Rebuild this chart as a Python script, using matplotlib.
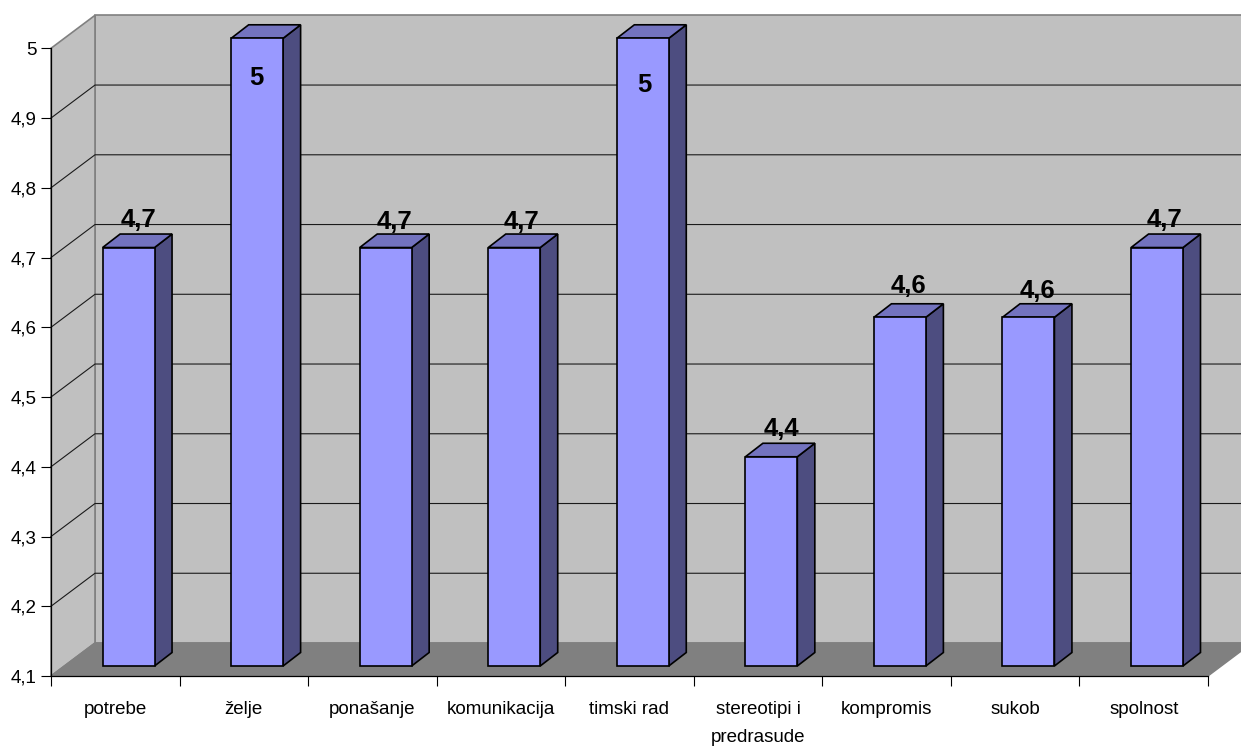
import matplotlib
matplotlib.use('Agg')
import matplotlib.pyplot as plt
from matplotlib.patches import Polygon
from matplotlib.transforms import Affine2D, IdentityTransform
import numpy as np

categories = ['potrebe', 'želje', 'ponašanje', 'komunikacija', 'timski rad',
              'stereotipi i\npredrasude', 'kompromis', 'sukob', 'spolnost']
values = [4.7, 5, 4.7, 4.7, 5, 4.4, 4.6, 4.6, 4.7]
value_labels = ['4,7', '5', '4,7', '4,7', '5', '4,4', '4,6', '4,6', '4,7']
y_ticks = [4.1, 4.2, 4.3, 4.4, 4.5, 4.6, 4.7, 4.8, 4.9, 5]
y_tick_labels = ['4,1', '4,2', '4,3', '4,4', '4,5', '4,6', '4,7', '4,8', '4,9', '5']

# label offsets from the top of each bar, in pixels (moved by hand in the original)
label_dx = [23, 13, 22, 21, 15, 23, 22, 22, 21]
label_dy = [38, -30, 36, 36, -37, 38, 41, 36, 38]

plt.rcParams['font.family'] = ['Liberation Sans', 'DejaVu Sans']

fig = plt.figure(figsize=(12.41, 7.47), dpi=100)
ax = fig.add_axes([51 / 1241, (747 - 676) / 747, (1208 - 51) / 1241, (676 - 48.3) / 747])
ax.set_xlim(-0.5, 8.5)
ax.set_ylim(4.1, 5)
ax.patch.set_visible(False)

wall_dx, wall_dy = 44, 33
bar_dx, bar_dy = 13.3, 10
side_dx, side_dy = 17.5, 13.5
bar_width = 0.404


def px(x, y, dx=0, dy=0):
    return ax.transData.transform((x, y)) + np.array([dx, dy])


def face(points, color, edge, lw, z):
    ax.add_patch(Polygon(points, closed=True, facecolor=color, edgecolor=edge, linewidth=lw,
                         transform=IdentityTransform(), clip_on=False, zorder=z, joinstyle='miter'))


x0, x1 = ax.get_xlim()
y0, y1 = ax.get_ylim()

# walls and floor
face([px(x0, y0, wall_dx, wall_dy), px(x1, y0, wall_dx, wall_dy),
      px(x1, y1, wall_dx, wall_dy), px(x0, y1, wall_dx, wall_dy)], '#C0C0C0', '#808080', 1.2, 1)
face([px(x0, y0), px(x0, y0, wall_dx, wall_dy), px(x0, y1, wall_dx, wall_dy), px(x0, y1)],
     '#C0C0C0', '#808080', 1.2, 1)
face([px(x0, y0), px(x1, y0), px(x1, y0, wall_dx, wall_dy), px(x0, y0, wall_dx, wall_dy)],
     '#808080', '#808080', 1, 1.5)

# gridlines
for t in y_ticks[1:-1]:
    a, b, c = px(x0, t), px(x0, t, wall_dx, wall_dy), px(x1, t, wall_dx, wall_dy)
    ax.plot([a[0], b[0], c[0]], [a[1], b[1], c[1]], color='#1a1a1a', lw=0.8,
            transform=IdentityTransform(), clip_on=False, zorder=2)

# bars
front = Affine2D().translate(bar_dx, bar_dy)
ax.bar(range(len(values)), [v - y0 for v in values], bottom=y0, width=bar_width,
       color='#9999FF', edgecolor='black', linewidth=1.2, zorder=4,
       transform=ax.transData + front, clip_on=False)
for i, v in enumerate(values):
    l, r = i - bar_width / 2, i + bar_width / 2
    face([px(r, y0, bar_dx, bar_dy), px(r, y0, bar_dx + side_dx, bar_dy + side_dy),
          px(r, v, bar_dx + side_dx, bar_dy + side_dy), px(r, v, bar_dx, bar_dy)],
         '#4D4D80', 'black', 1.2, 3)
    face([px(l, v, bar_dx, bar_dy), px(l, v, bar_dx + side_dx, bar_dy + side_dy),
          px(r, v, bar_dx + side_dx, bar_dy + side_dy), px(r, v, bar_dx, bar_dy)],
         '#7373BF', 'black', 1.2, 3)

# data labels
for i, v in enumerate(values):
    ax.annotate(value_labels[i], xy=(i, v), xytext=(label_dx[i], label_dy[i]),
                textcoords='offset pixels', ha='center', va='center', fontsize=18.5,
                fontweight='bold', color='black', zorder=6, annotation_clip=False)

# axes
for s in ['top', 'right']:
    ax.spines[s].set_visible(False)
for s in ['left', 'bottom']:
    ax.spines[s].set_linewidth(0.9)
    ax.spines[s].set_zorder(5)
ax.set_yticks(y_ticks)
ax.set_yticklabels(y_tick_labels, fontsize=13.5, color='black')
ax.set_xticks(np.arange(-0.5, 9, 1))
ax.set_xticklabels([])
ax.set_xticks(range(len(categories)), categories, minor=True, fontsize=13.5, color='black',
              linespacing=1.87, va='top')
ax.tick_params(axis='x', which='major', length=7.5, width=0.8)
ax.tick_params(axis='x', which='minor', length=0, pad=18)
ax.tick_params(axis='y', length=7.5, width=0.8, pad=3)

plt.savefig('out.png', dpi=100)
